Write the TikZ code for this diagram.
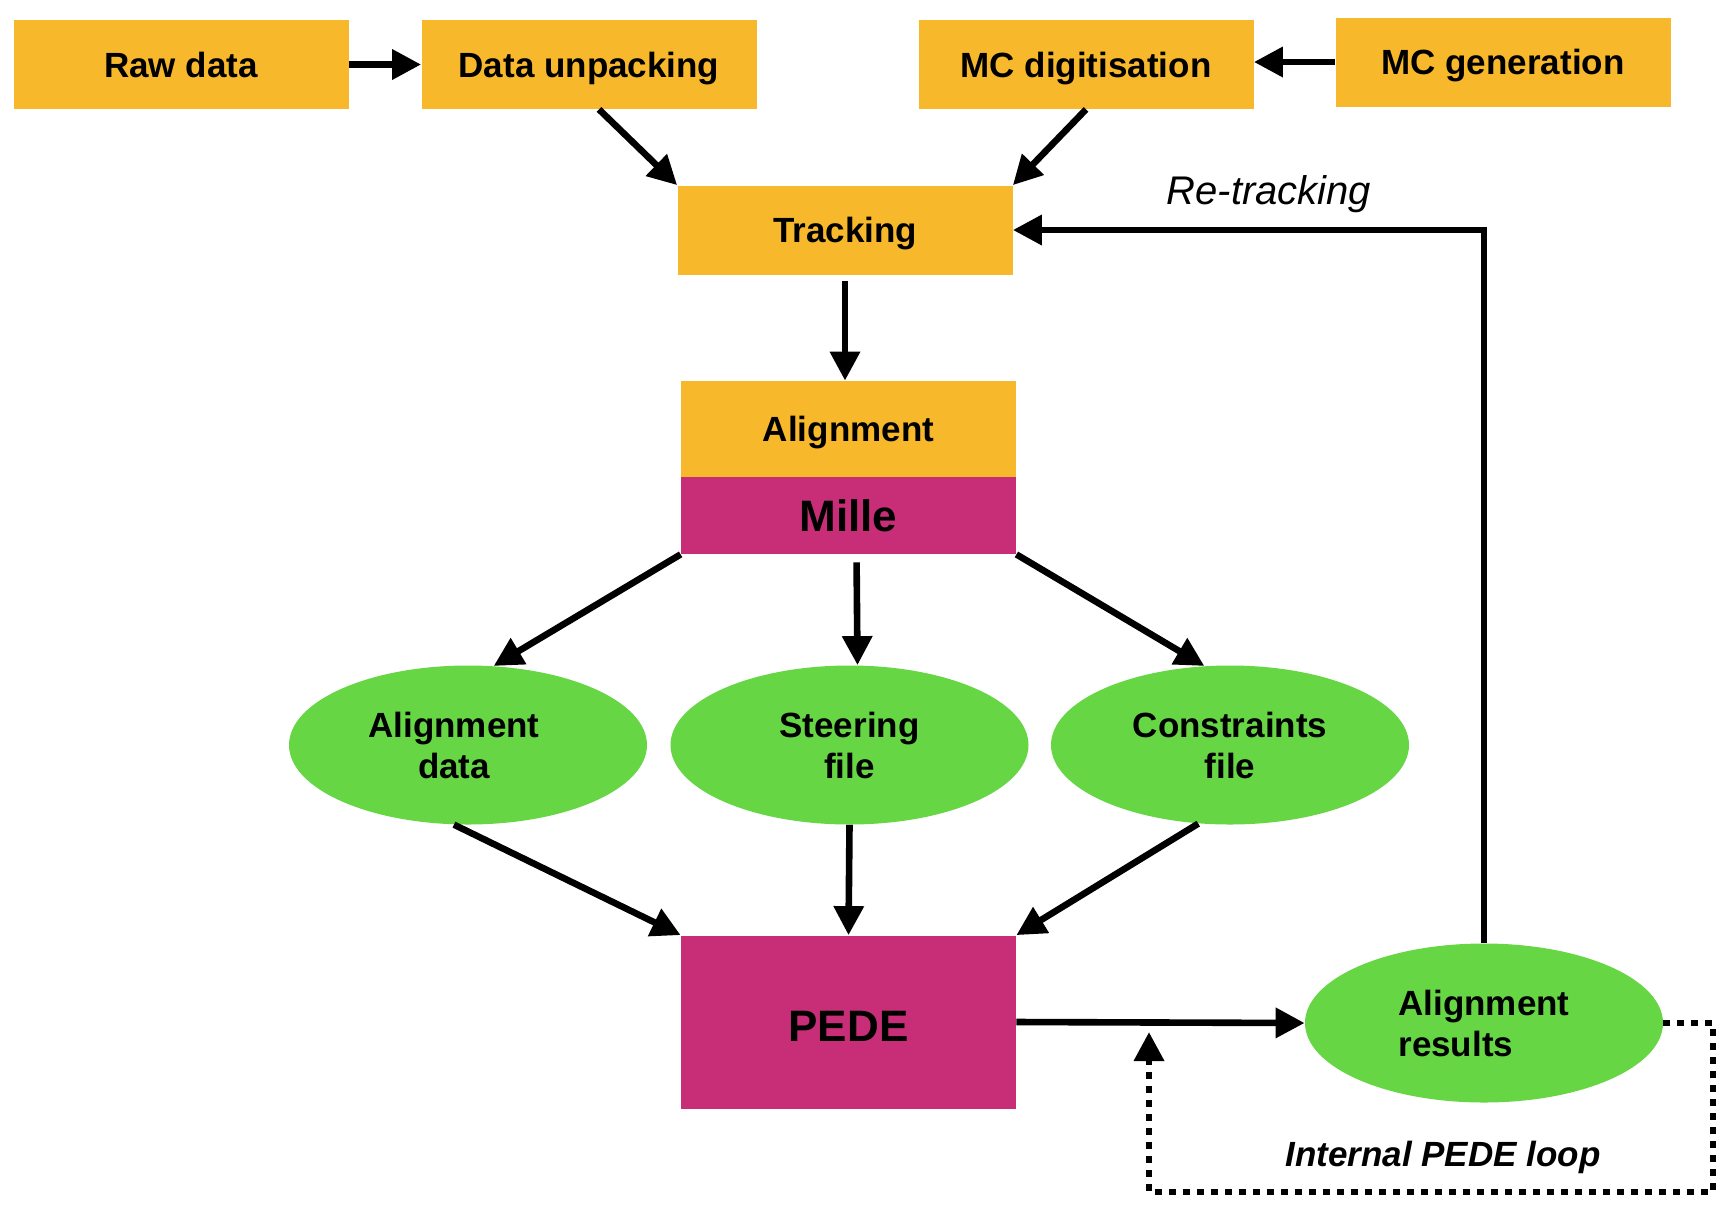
\documentclass[tikz,border=0pt]{standalone}
\usepackage{fontspec}
\setmainfont{Liberation Sans}
\usepackage{xcolor}
\usepackage{tikz}
\usetikzlibrary{arrows.meta,shapes.geometric}

\definecolor{stageorange}{RGB}{247,184,43}
\definecolor{millepink}{RGB}{200,46,120}
\definecolor{filegreen}{RGB}{102,214,69}

\begin{document}
\begin{tikzpicture}[x=0.5pt,y=-0.5pt,
    stage/.style={fill=stageorange,minimum width=167.5pt,minimum height=44.5pt,
        inner sep=0pt,text height=12.5pt,text depth=0pt,
        font=\fontsize{17.5}{20.5}\selectfont\bfseries},
    prog/.style={fill=millepink,minimum width=167.5pt,inner sep=0pt,
        text height=15.7pt,text depth=0pt,font=\fontsize{22}{26}\selectfont\bfseries},
    datafile/.style={ellipse,fill=filegreen,minimum width=179pt,minimum height=79.5pt,
        inner sep=0pt,align=center,font=\fontsize{17.5}{20.5}\selectfont\bfseries},
    flow/.style={-{Triangle[length=14.5pt,width=14.5pt]},line width=3.3pt},
    loopflow/.style={flow,dash pattern=on 3.3pt off 3.7pt}
    ]
    \useasboundingbox (0,0) rectangle (1730,1212);
    % Input chain
    \node[stage] (raw) at (181,64.5) {Raw data};
    \node[stage] (unpack) at (589,64.5) {Data unpacking};
    \node[stage] (mcdig) at (1086,64.5) {MC digitisation};
    \node[stage] (mcgen) at (1503,62) {MC generation};
    \node[stage] (track) at (845,230) {Tracking};
    % Alignment with Mille
    \node[stage,minimum height=48pt] (align) at (848.5,429) {Alignment};
    \node[prog,minimum height=38.5pt] (mille) at (848.5,515.5) {Mille};
    % Files
    \node[datafile] (adata) at (468,745) {\hspace*{-14pt}Alignment\\\hspace*{-14pt}data};
    \node[datafile] (steer) at (849.5,745) {Steering\\file};
    \node[datafile] (cons) at (1230,745) {Constraints\\file};
    % PEDE and results
    \node[prog,minimum height=86.5pt,text height=19.7pt] (pede) at (848.5,1022) {PEDE};
    \node[datafile,align=left] (res) at (1484,1023) {Alignment\\results};
    \node[font=\fontsize{20}{24}\selectfont\itshape] (retrack) at (1269,194) {Re-tracking};
    \node[font=\fontsize{17.5}{20.5}\selectfont\bfseries\itshape] (looplabel) at (1443,1157) {Internal PEDE loop};
    \coordinate (loopse) at (1713,1192);
    \coordinate (loopsw) at (1149,1192);
    \coordinate (looptip) at (1149,1032);

    \draw[flow] (raw.east) -- (unpack.west);
    \draw[flow] (mcgen.west) -- (mcgen.west -| mcdig.east);
    \draw[flow] ([xshift=5pt]unpack.south) -- (track.north west);
    \draw[flow] (mcdig.south) -- (track.north east);
    \draw[flow,shorten <=3pt] (track.south) -- (track.south |- align.north);
    \draw[flow] (mille.south west) -- (adata.72);
    \draw[flow,shorten <=4pt] ([xshift=4pt]mille.south) -- ([xshift=4pt]steer.north);
    \draw[flow] (mille.south east) -- (cons.108);
    \draw[flow] (adata.260) -- (pede.north west);
    \draw[flow] (steer.south) -- (pede.north);
    \draw[flow] (cons.248) -- (pede.north east);
    \draw[flow] (pede.east) -- (res.west);
    \draw[flow] (res.north) |- (track.east);
    \draw[loopflow] (res.east) -| (loopse) -- (loopsw) -- (looptip);
\end{tikzpicture}
\end{document}
